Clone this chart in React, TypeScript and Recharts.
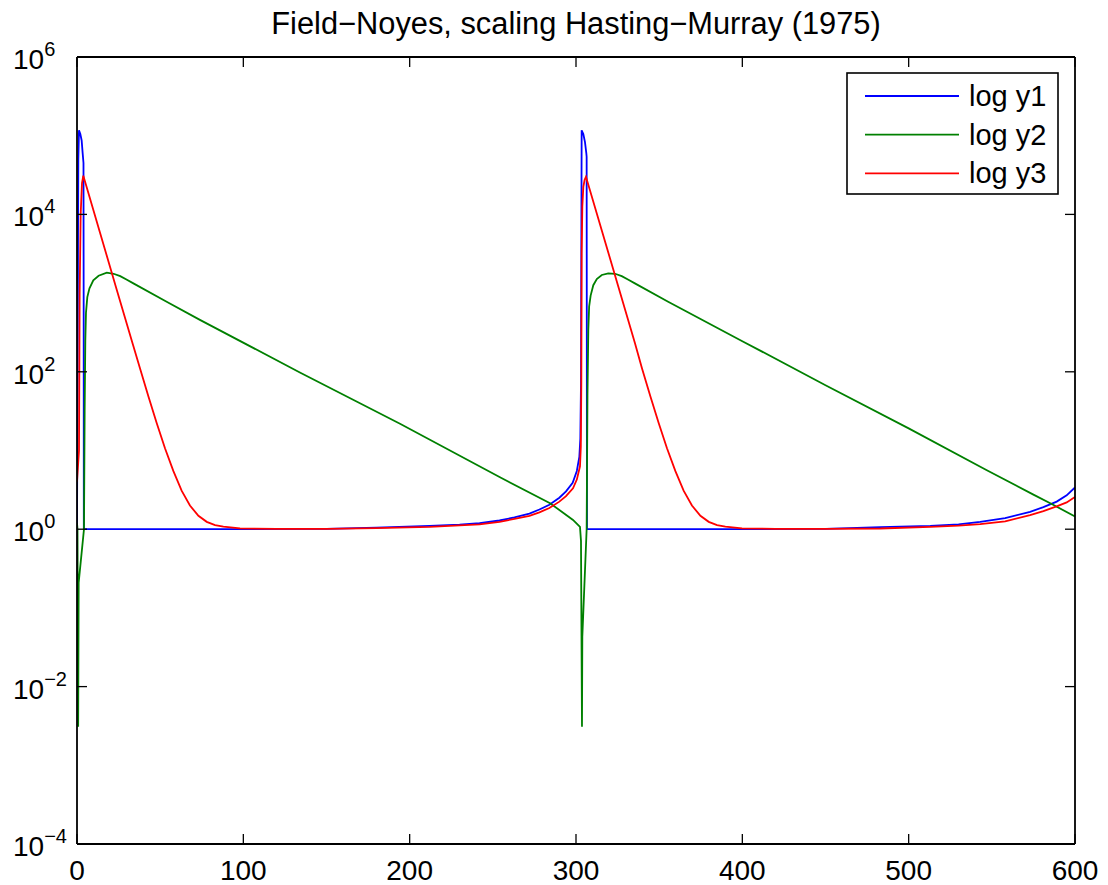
import { Legend, Line, LineChart, XAxis, YAxis } from "recharts"

const FONT = "'Liberation Sans', Arial, Helvetica, sans-serif"
const TITLE = "Field\u2212Noyes, scaling Hasting\u2212Murray (1975)"

const xTicks = [0, 100, 200, 300, 400, 500, 600]
const yTicks = [1e-4, 1e-2, 1, 1e2, 1e4, 1e6]

// log y1 (blue)
const y1Time = [
  0, 0.8, 1.2, 2.0, 2.8, 3.4, 3.9, 4.0, 4.1, 50, 100, 150, 180, 212, 230, 242, 254, 263, 272, 278,
  284, 290, 294, 298, 300.5, 302, 302.6, 303.0, 303.2, 303.4, 304.4, 305.4, 306.2, 306.4, 306.6, 350,
  400, 450, 483, 513, 530, 543, 558, 573, 581, 589, 595, 600,
]
const y1Value = [
  1, 5.0e4, 1.17e5, 1.05e5, 8.7e4, 6.0e4, 4.5e4, 1000, 1, 1, 1, 1.01, 1.05, 1.1, 1.14, 1.19, 1.29,
  1.41, 1.58, 1.78, 2.04, 2.51, 3.02, 3.89, 5.5, 8.3, 14.1, 72, 3160, 1.17e5, 1.05e5, 8.3e4, 6.0e4,
  5.4e4, 1, 1, 1, 1.01, 1.06, 1.1, 1.15, 1.24, 1.38, 1.66, 1.91, 2.24, 2.69, 3.39,
]

// log y2 (green)
const y2Time = [
  0, 0.3, 0.7, 1.0, 4.2, 4.6, 5.0, 5.4, 6.2, 7.5, 9.8, 13, 17.9, 22, 26, 30, 33.9, 53.9, 73.9, 134,
  194.2, 254.3, 284.4, 298.2, 302.4, 303.0, 303.6, 303.8, 306.4, 306.9, 307.4, 307.9, 308.8, 310.4,
  312.5, 315.5, 319.4, 323.5, 327.5, 331.5, 335.4, 355.4, 400, 450, 500, 547, 575, 586, 600,
]
const y2Value = [
  1.2, 1.0, 0.0031, 0.21, 1.0, 32, 250, 560, 890, 1150, 1450, 1660, 1820, 1760, 1640, 1480, 1330, 776,
  457, 98, 21.9, 4.57, 2.14, 1.31, 1.07, 0.71, 0.0031, 0.043, 1.0, 50, 340, 676, 930, 1260, 1510,
  1700, 1780, 1760, 1640, 1480, 1330, 776, 245, 67.6, 19.1, 5.62, 2.75, 2.09, 1.45,
]

// log y3 (red)
const y3Time = [
  0, 1.2, 1.6, 2.2, 3.0, 3.8, 13.8, 23.8, 33.7, 37.9, 42.9, 47.9, 52.9, 57.9, 62.9, 67.9, 73, 78, 83,
  88, 98, 120, 150, 180, 212, 242, 254, 263, 272, 278, 284, 290, 294, 298.2, 300.5, 302.4, 302.9,
  303.2, 303.4, 303.8, 304.4, 305.2, 306.0, 315.6, 325.6, 335.5, 339.7, 344.7, 349.7, 354.7, 359.7,
  364.7, 369.7, 374.8, 379.8, 384.8, 389.8, 399.8, 420, 450, 483, 513, 530, 543, 558, 573, 581, 589,
  595, 600,
]
const y3Value = [
  4.0, 10, 1000, 1e4, 2.5e4, 3.1e4, 5900, 1120, 219, 110, 49, 22.4, 10.7, 5.5, 3.09, 2.0, 1.48, 1.24,
  1.13, 1.08, 1.025, 1.01, 1.007, 1.03, 1.07, 1.15, 1.24, 1.35, 1.48, 1.64, 1.86, 2.24, 2.63, 3.31,
  4.27, 6.3, 11.2, 72, 3160, 1.26e4, 2.24e4, 2.75e4, 3.0e4, 6170, 1175, 229, 110, 49, 22.4, 10.7, 5.5,
  3.09, 2.0, 1.48, 1.24, 1.13, 1.08, 1.025, 1.01, 1.007, 1.02, 1.07, 1.11, 1.16, 1.26, 1.51, 1.7,
  1.95, 2.19, 2.57,
]

const toRows = (ts: number[], vs: number[]) => ts.map((t, i) => ({ t, v: vs[i] }))

const series = [
  { name: "log y1", color: "#0000ff", data: toRows(y1Time, y1Value) },
  { name: "log y2", color: "#008000", data: toRows(y2Time, y2Value) },
  { name: "log y3", color: "#ff0000", data: toRows(y3Time, y3Value) },
]

function BottomTick({ x, y, payload }: any) {
  return (
    <g>
      <line x1={x} y1={y} x2={x} y2={y - 10} stroke="#000" strokeWidth={1.3} />
      <text x={x} y={y + 36} textAnchor="middle" fontSize={28} fontFamily={FONT} fill="#000">
        {payload.value}
      </text>
    </g>
  )
}

function TopTick({ x, y }: any) {
  return <line x1={x} y1={y} x2={x} y2={y + 10} stroke="#000" strokeWidth={1.3} />
}

function LeftTick({ x, y, payload }: any) {
  const exp = Math.round(Math.log10(payload.value))
  const expText = exp < 0 ? `\u2212${-exp}` : `${exp}`
  return (
    <g>
      <line x1={x} y1={y} x2={x + 10} y2={y} stroke="#000" strokeWidth={1.3} />
      <text x={x - 64} y={y + 12} textAnchor="start" fontSize={28} fontFamily={FONT} fill="#000">
        10
        <tspan dy={-13} fontSize={20}>
          {expText}
        </tspan>
      </text>
    </g>
  )
}

function RightTick({ x, y }: any) {
  return <line x1={x} y1={y} x2={x - 10} y2={y} stroke="#000" strokeWidth={1.3} />
}

function LegendBox({ payload }: any) {
  return (
    <svg width={213} height={123} style={{ display: "block" }}>
      <rect x={1} y={1} width={211} height={121} fill="#fff" stroke="#000" strokeWidth={1.6} />
      {(payload ?? []).map((p: any, i: number) => {
        const cy = 24 + i * 38.7
        return (
          <g key={p.value}>
            <line x1={19} y1={cy} x2={113} y2={cy} stroke={p.color} strokeWidth={1.8} />
            <text x={123} y={cy + 10} fontSize={29} fontFamily={FONT} fill="#000">
              {p.value}
            </text>
          </g>
        )
      })}
    </svg>
  )
}

export default function App() {
  return (
    <div style={{ position: "absolute", left: 0, top: 0, width: 1108, height: 885, background: "#fff" }}>
      <div
        style={{
          position: "absolute",
          left: 77,
          width: 998,
          top: 6,
          textAlign: "center",
          fontFamily: FONT,
          fontSize: 30.8,
          lineHeight: "36px",
          color: "#000",
          whiteSpace: "nowrap",
        }}
      >
        {TITLE}
      </div>
      <LineChart width={1108} height={885} margin={{ top: 56, right: 32, bottom: 40, left: 76 }}>
        <XAxis
          dataKey="t"
          type="number"
          domain={[0, 600]}
          ticks={xTicks}
          height={1}
          tickSize={0}
          tickMargin={0}
          tickLine={false}
          tick={<BottomTick />}
          axisLine={{ stroke: "#000", strokeWidth: 1.8 }}
          allowDataOverflow
        />
        <XAxis
          xAxisId="top"
          orientation="top"
          dataKey="t"
          type="number"
          domain={[0, 600]}
          ticks={xTicks}
          height={1}
          tickSize={0}
          tickMargin={0}
          tickLine={false}
          tick={<TopTick />}
          axisLine={{ stroke: "#000", strokeWidth: 1.8 }}
          allowDataOverflow
        />
        <YAxis
          type="number"
          scale="log"
          domain={[1e-4, 1e6]}
          ticks={yTicks}
          width={1}
          tickSize={0}
          tickMargin={0}
          tickLine={false}
          tick={<LeftTick />}
          axisLine={{ stroke: "#000", strokeWidth: 1.8 }}
          allowDataOverflow
        />
        <YAxis
          yAxisId="right"
          orientation="right"
          type="number"
          scale="log"
          domain={[1e-4, 1e6]}
          ticks={yTicks}
          width={1}
          tickSize={0}
          tickMargin={0}
          tickLine={false}
          tick={<RightTick />}
          axisLine={{ stroke: "#000", strokeWidth: 1.8 }}
          allowDataOverflow
        />
        <Legend
          layout="vertical"
          align="center"
          verticalAlign="middle"
          wrapperStyle={{ left: 846, top: 72, width: 213, height: 123 }}
          content={<LegendBox />}
        />
        {series.map((s) => (
          <Line
            key={s.name}
            data={s.data}
            dataKey="v"
            name={s.name}
            type="linear"
            stroke={s.color}
            strokeWidth={1.8}
            dot={false}
            activeDot={false}
            isAnimationActive={false}
          />
        ))}
      </LineChart>
    </div>
  )
}
